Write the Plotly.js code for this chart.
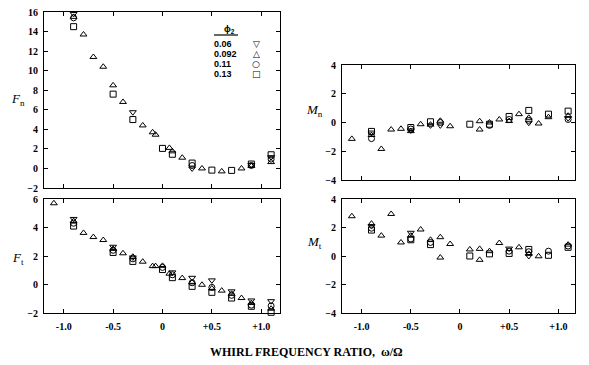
<!DOCTYPE html>
<html>
<head>
<meta charset="utf-8">
<script src="https://cdn.plot.ly/plotly-3.0.1.min.js"></script>
<style>html,body{margin:0;padding:0;background:#fff;}#chart{width:589px;height:365px;}</style>
</head>
<body>
<div id="chart"></div>
<script>
// ---- Series labels (phi_2) ----
const seriesNames = ['0.06', '0.092', '0.11', '0.13'];
const seriesSymbols = ['triangle-down-open', 'triangle-up-open', 'circle-open', 'square-open'];
const legendGlyphs = ['\u25BD', '\u25B3', '\u25CB', '\u25A1'];

// ---- Fn panel ----
const fn06x = [-0.9, -0.3, 0.3, 0.9, 1.1];
const fn06y = [15.8, 5.75, 0.0, 0.35, 1.15];
const fn092x = [-0.9, -0.8, -0.7, -0.6, -0.5, -0.4, -0.2, -0.1, -0.07, 0.07, 0.1, 0.2, 0.4, 0.6, 0.8, 0.9, 1.1];
const fn092y = [15.5, 13.7, 11.4, 10.4, 8.5, 6.8, 4.4, 3.7, 3.45, 2.1, 1.75, 1.1, 0.0, -0.3, 0.0, 0.25, 0.65];
const fn11x = [-0.9, 0.3, 0.9, 1.1];
const fn11y = [15.4, 0.3, 0.3, 0.95];
const fn13x = [-0.9, -0.5, -0.3, 0, 0.1, 0.3, 0.5, 0.7, 0.9, 1.1];
const fn13y = [14.5, 7.6, 5.0, 2.05, 1.45, 0.55, -0.17, -0.2, 0.45, 1.4];

// ---- Ft panel ----
const ft06x = [-0.9, -0.5, -0.3, 0.1, 0.3, 0.5, 0.7, 0.9, 1.1];
const ft06y = [4.6, 2.65, 1.9, 0.85, 0.47, 0.29, -0.48, -1.12, -1.17];
const ft092x = [-1.1, -0.9, -0.8, -0.7, -0.6, -0.5, -0.4, -0.3, -0.2, -0.1, -0.07, 0, 0.07, 0.2, 0.3, 0.4, 0.5, 0.6, 0.7, 0.8, 0.9, 1.1];
const ft092y = [5.7, 4.45, 3.62, 3.33, 3.12, 2.5, 2.19, 1.95, 1.6, 1.29, 1.29, 1.31, 0.76, 0.45, 0.15, -0.02, -0.28, -0.43, -0.65, -0.95, -1.3, -1.7];
const ft11x = [-0.9, -0.5, -0.3, 0, 0.1, 0.3, 0.5, 0.7, 0.9, 1.1];
const ft11y = [4.3, 2.4, 1.8, 1.2, 0.68, 0.12, -0.2, -0.76, -1.45, -1.5];
const ft13x = [-0.9, -0.5, -0.3, 0, 0.1, 0.3, 0.5, 0.7, 0.9, 1.1];
const ft13y = [4.1, 2.25, 1.62, 1.05, 0.48, -0.13, -0.55, -0.95, -1.53, -1.95];

// ---- Mn panel ----
const mn06x = [-0.9, -0.5, -0.3, -0.2, 0.7, 1.1];
const mn06y = [-0.7, -0.55, -0.2, -0.2, -0.02, 0.3];
const mn092x = [-1.1, -0.9, -0.8, -0.7, -0.6, -0.5, -0.4, -0.3, -0.2, -0.1, 0.2, 0.2, 0.3, 0.4, 0.5, 0.6, 0.7, 0.8, 0.9, 1.1];
const mn092y = [-1.14, -0.87, -1.84, -0.49, -0.44, -0.6, -0.12, -0.15, 0.12, -0.26, 0.09, -0.49, 0.0, 0.21, 0.1, 0.58, 0.33, -0.07, 0.37, 0.47];
const mn11x = [-0.9, -0.5, -0.2, 0.3, 0.5, 0.7, 1.1];
const mn11y = [-1.12, -0.45, 0.0, -0.2, 0.21, 0.15, 0.21];
const mn13x = [-0.9, -0.5, -0.3, 0.1, 0.3, 0.5, 0.7, 0.9, 1.1];
const mn13y = [-0.62, -0.35, 0.05, -0.12, -0.12, 0.42, 0.84, 0.58, 0.79];

// ---- Mt panel ----
const mt06x = [-0.9, -0.5, 0.5, 0.7];
const mt06y = [2.1, 1.63, 0.52, 0.0];
const mt092x = [-1.1, -0.9, -0.8, -0.7, -0.6, -0.5, -0.4, -0.3, -0.2, -0.2, -0.1, 0.1, 0.2, 0.2, 0.3, 0.4, 0.6, 0.7, 0.8, 1.1];
const mt092y = [2.79, 2.27, 1.43, 2.95, 0.95, 1.43, 1.86, 1.14, 1.32, -0.11, 0.84, 0.46, 0.5, -0.27, 0.34, 0.91, 0.61, 0.15, -0.02, 0.8];
const mt11x = [-0.9, -0.5, -0.3, 0.5, 0.7, 0.9, 1.1];
const mt11y = [1.95, 1.2, 0.95, 0.34, 0.3, 0.34, 0.7];
const mt13x = [-0.9, -0.5, -0.3, 0.1, 0.3, 0.5, 0.7, 0.9, 1.1];
const mt13y = [1.82, 1.14, 0.8, 0.0, 0.15, 0.18, 0.46, 0.05, 0.61];

// ---- Tick labels ----
const xTickVals = [-1.0, -0.5, 0, 0.5, 1.0];
const xTickText = ['-1.0', '-0.5', '0', '+0.5', '+1.0'];
const fnTicks = [-2, 0, 2, 4, 6, 8, 10, 12, 14, 16];
const ftTicks = [-2, 0, 2, 4, 6];
const mTicks = [-4, -2, 0, 2, 4];

const W = 589, H = 365;
const panels = [
  {xs: [fn06x, fn092x, fn11x, fn13x], ys: [fn06y, fn092y, fn11y, fn13y], ax: ''},
  {xs: [ft06x, ft092x, ft11x, ft13x], ys: [ft06y, ft092y, ft11y, ft13y], ax: '2'},
  {xs: [mn06x, mn092x, mn11x, mn13x], ys: [mn06y, mn092y, mn11y, mn13y], ax: '3'},
  {xs: [mt06x, mt092x, mt11x, mt13x], ys: [mt06y, mt092y, mt11y, mt13y], ax: '4'}
];

const traces = [];
panels.forEach(p => {
  for (let i = 0; i < 4; i++) {
    traces.push({
      type: 'scatter', mode: 'markers',
      x: p.xs[i], y: p.ys[i], name: seriesNames[i],
      xaxis: 'x' + p.ax, yaxis: 'y' + p.ax,
      showlegend: false,
      marker: {symbol: seriesSymbols[i], size: 6, color: '#000', line: {color: '#000', width: 1}},
      cliponaxis: false
    });
  }
});

const tickFont = {family: 'Liberation Serif, serif', size: 10, color: '#000', weight: 'bold'};
function ax(extra) {
  return Object.assign({
    showline: true, linecolor: '#000', linewidth: 1, mirror: 'ticks',
    ticks: 'inside', ticklen: 4, tickwidth: 1, tickcolor: '#000',
    showgrid: false, zeroline: false, tickfont: tickFont, fixedrange: true
  }, extra);
}
const xl = [44 / W, 280 / W], xr = [342 / W, 575 / W];
const yd = (top, bot) => [1 - bot / H, 1 - top / H];

const layout = {
  width: W, height: H,
  margin: {l: 0, r: 0, t: 0, b: 0},
  paper_bgcolor: '#fff', plot_bgcolor: '#fff',
  showlegend: false,
  xaxis: ax({domain: xl, range: [-1.2, 1.19], anchor: 'y', tickvals: xTickVals, ticktext: xTickText, showticklabels: false}),
  yaxis: ax({domain: yd(12, 188), range: [-2, 16], anchor: 'x', tickvals: fnTicks, ticklabelstandoff: 3}),
  xaxis2: ax({domain: xl, range: [-1.2, 1.19], anchor: 'y2', tickvals: xTickVals, ticktext: xTickText, ticklabelstandoff: 4}),
  yaxis2: ax({domain: yd(199, 313), range: [-2, 6], anchor: 'x2', tickvals: ftTicks, ticklabelstandoff: 3}),
  xaxis3: ax({domain: xr, range: [-1.2, 1.17], anchor: 'y3', tickvals: xTickVals, ticktext: xTickText, showticklabels: false}),
  yaxis3: ax({domain: yd(65, 180), range: [-4, 4], anchor: 'x3', tickvals: mTicks, ticklabelstandoff: 3}),
  xaxis4: ax({domain: xr, range: [-1.2, 1.17], anchor: 'y4', tickvals: xTickVals, ticktext: xTickText, ticklabelstandoff: 4}),
  yaxis4: ax({domain: yd(199, 313), range: [-4, 4], anchor: 'x4', tickvals: mTicks, ticklabelstandoff: 3}),
  annotations: [],
  shapes: []
};

const labFont = {family: 'Liberation Serif, serif', size: 13, color: '#000'};
function paperAnn(text, px, py, font, xanchor) {
  return {text: text, xref: 'paper', yref: 'paper', x: px / W, y: 1 - py / H,
          xanchor: xanchor || 'center', yanchor: 'middle', showarrow: false, font: font,
          borderpad: 0};
}
layout.annotations.push(paperAnn('<i>F</i><sub>n</sub>', 18, 99, labFont));
layout.annotations.push(paperAnn('<i>F</i><sub>t</sub>', 18, 258, labFont));
layout.annotations.push(paperAnn('<i>M</i><sub>n</sub>', 314, 111, labFont));
layout.annotations.push(paperAnn('<i>M</i><sub>t</sub>', 314, 242, labFont));
layout.annotations.push(paperAnn('WHIRL FREQUENCY RATIO,  \u03C9/\u03A9', 306, 352,
  {family: 'Liberation Serif, serif', size: 12, color: '#000', weight: 'bold'}));

// legend block
const legFont = {family: 'Liberation Sans, Arial, sans-serif', size: 9, color: '#000', weight: 'bold'};
layout.annotations.push(paperAnn('\u03D5<sub>2</sub>', 229, 29, legFont));
layout.shapes.push({type: 'line', xref: 'paper', yref: 'paper',
  x0: 214 / W, x1: 238 / W, y0: 1 - 35 / H, y1: 1 - 35 / H, line: {color: '#000', width: 1.2}});
const legRows = [43.5, 53.5, 63.5, 73.5];
for (let i = 0; i < 4; i++) {
  layout.annotations.push(paperAnn(seriesNames[i], 213, legRows[i], legFont, 'left'));
  layout.annotations.push(paperAnn(legendGlyphs[i], 256, legRows[i],
    {family: 'DejaVu Sans, sans-serif', size: 9, color: '#000'}));
}

Plotly.newPlot('chart', traces, layout, {displayModeBar: false, staticPlot: true});
</script>
</body>
</html>
